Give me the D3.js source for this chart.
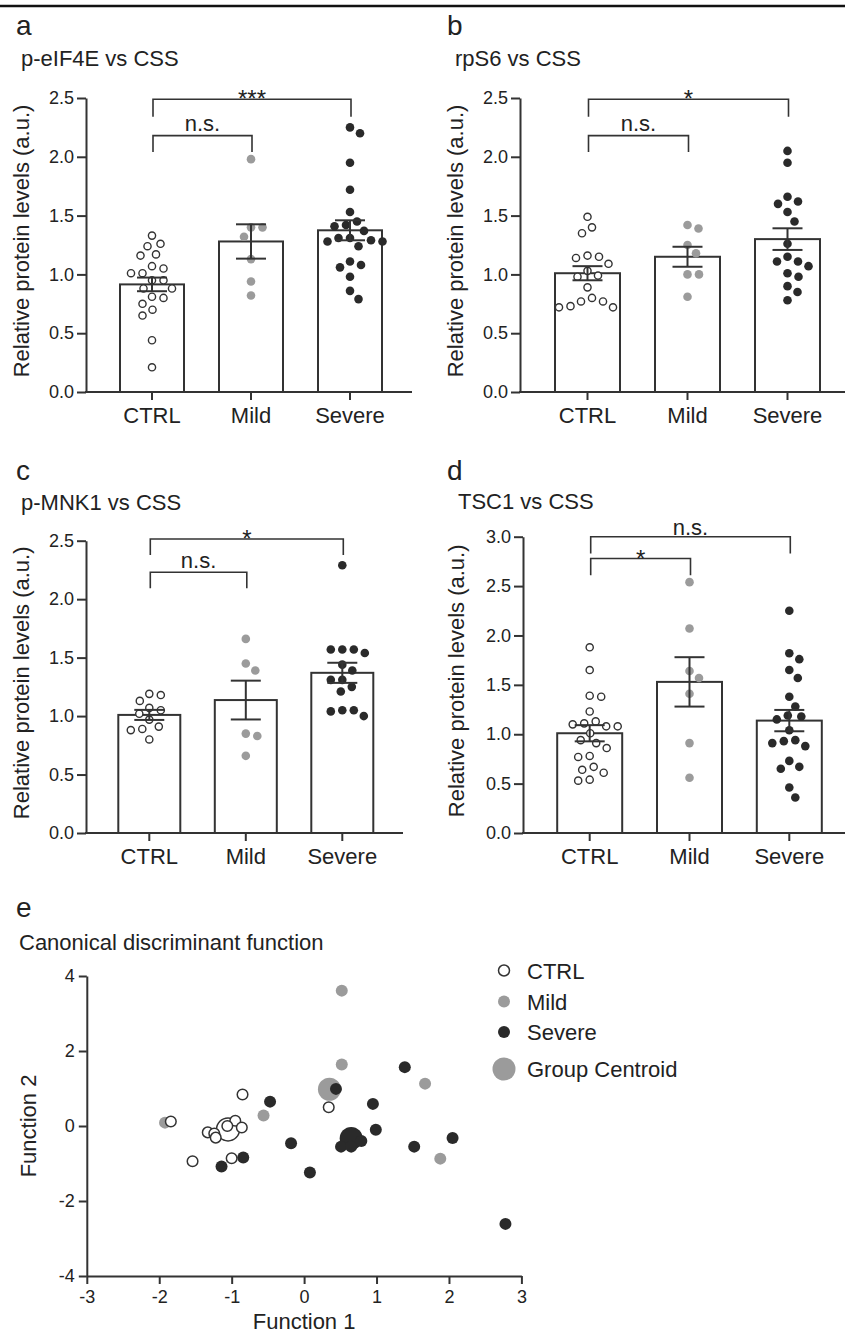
<!DOCTYPE html>
<html>
<head>
<meta charset="utf-8">
<script src="https://cdn.jsdelivr.net/npm/d3@7"></script>
<style>
  body { margin: 0; background: #fff; }
  text { font-family: "Liberation Sans", Arial, sans-serif; fill: #222; }
</style>
</head>
<body>
<svg id="fig" width="845" height="1333"></svg>
<script>
// ---- data ----
var groups = ['CTRL', 'Mild', 'Severe'];

// a: p-eIF4E
var eif4eCtrl = [1.33, 1.26, 1.24, 1.17, 1.16, 1.07, 1.05, 1.01, 1.01, 0.95, 0.95, 0.88, 0.88, 0.81, 0.80, 0.75, 0.70, 0.65, 0.44, 0.21];
var eif4eMild = [1.98, 1.40, 1.40, 1.32, 1.13, 0.94, 0.82];
var eif4eSevere = [2.25, 2.20, 1.95, 1.72, 1.53, 1.45, 1.42, 1.41, 1.37, 1.31, 1.31, 1.29, 1.28, 1.28, 1.24, 1.11, 1.08, 1.06, 0.98, 0.86, 0.79];
var eif4eMean = [0.915, 1.28, 1.375];
var eif4eSem = [0.058, 0.146, 0.085];

// b: rpS6
var rps6Ctrl = [1.49, 1.40, 1.35, 1.16, 1.15, 1.14, 1.09, 1.03, 0.99, 0.98, 0.89, 0.80, 0.77, 0.77, 0.73, 0.72, 0.72];
var rps6Mild = [1.42, 1.39, 1.25, 1.18, 1.00, 1.00, 0.81];
var rps6Severe = [2.05, 1.95, 1.66, 1.62, 1.60, 1.53, 1.45, 1.26, 1.15, 1.11, 1.11, 1.07, 1.01, 0.98, 0.90, 0.85, 0.78];
var rps6Mean = [1.01, 1.15, 1.30];
var rps6Sem = [0.06, 0.085, 0.092];

// c: p-MNK1
var mnk1Ctrl = [1.19, 1.18, 1.13, 1.07, 1.05, 1.02, 0.97, 0.91, 0.89, 0.88, 0.80];
var mnk1Mild = [1.66, 1.45, 1.39, 0.85, 0.83, 0.66];
var mnk1Severe = [2.29, 1.57, 1.57, 1.57, 1.54, 1.44, 1.39, 1.31, 1.31, 1.25, 1.21, 1.05, 1.05, 1.04, 1.00];
var mnk1Mean = [1.01, 1.137, 1.37];
var mnk1Sem = [0.043, 0.166, 0.086];

// d: TSC1
var tsc1Ctrl = [1.88, 1.65, 1.39, 1.38, 1.23, 1.13, 1.11, 1.10, 1.08, 1.08, 1.01, 0.94, 0.91, 0.86, 0.78, 0.77, 0.67, 0.64, 0.61, 0.54, 0.53];
var tsc1Mild = [2.54, 2.07, 1.64, 1.57, 1.41, 0.91, 0.56];
var tsc1Severe = [2.25, 1.82, 1.76, 1.65, 1.57, 1.38, 1.28, 1.19, 1.18, 1.15, 1.04, 0.94, 0.93, 0.91, 0.88, 0.73, 0.67, 0.65, 0.46, 0.36];
var tsc1Mean = [1.01, 1.53, 1.138];
var tsc1Sem = [0.082, 0.25, 0.108];

// e: canonical discriminant function
var ctrlF1 = [-1.84, -0.85, 0.34, -0.95, -1.06, -0.86, -1.33, -1.24, -1.22, -1.54, -1.00];
var ctrlF2 = [0.12, 0.84, 0.50, 0.14, 0.00, -0.04, -0.17, -0.20, -0.31, -0.94, -0.86];
var mildF1 = [-1.92, -0.56, 0.52, 0.52, 1.67, 1.88];
var mildF2 = [0.09, 0.28, 3.61, 1.64, 1.13, -0.87];
var severeF1 = [-0.47, -0.84, -1.14, -0.18, 0.08, 0.44, 0.95, 0.99, 1.39, 1.52, 2.05, 2.78, 0.51, 0.65, 0.79];
var severeF2 = [0.65, -0.84, -1.08, -0.46, -1.24, 0.99, 0.59, -0.10, 1.57, -0.55, -0.32, -2.61, -0.55, -0.55, -0.40];
var centroidF1 = [-1.05, 0.35, 0.65];
var centroidF2 = [-0.09, 0.98, -0.33];

var yTicks25 = [0, 0.5, 1.0, 1.5, 2.0, 2.5];
var yTicks30 = [0, 0.5, 1.0, 1.5, 2.0, 2.5, 3.0];
var f1Ticks = [-3, -2, -1, 0, 1, 2, 3];
var f2Ticks = [-4, -2, 0, 2, 4];

// ---- style ----
var ink = '#333';
var grey = '#9b9b9b';
var dark = '#2a2a2a';

var svg = d3.select('#fig');

// top rule
svg.append('line')
  .attr('x1', 0).attr('x2', 845).attr('y1', 6).attr('y2', 6)
  .attr('stroke', '#111').attr('stroke-width', 2.5);

// beeswarm: spread points sideways so they don't overlap
function swarm(values, cx, y, minDist) {
  var pts = values.map(function(v) { return { v: v, py: y(v) }; })
    .sort(function(a, b) { return a.py - b.py; });
  var placed = [];
  pts.forEach(function(p) {
    var off = null;
    for (var k = 0; k < 400 && off === null; k++) {
      var cands = k === 0 ? [0] : [k * 0.5, -k * 0.5];
      for (var j = 0; j < cands.length; j++) {
        var o = cands[j];
        var ok = placed.every(function(q) {
          var dx = q.px - (cx + o), dy = q.py - p.py;
          return dx * dx + dy * dy >= minDist * minDist;
        });
        if (ok) { off = o; break; }
      }
    }
    p.px = cx + off;
    placed.push(p);
  });
  return placed;
}

function barPanel(p) {
  var g = svg.append('g');
  var x = d3.scalePoint().domain(groups).range(p.xRange);
  var y = d3.scaleLinear().domain([0, p.yMax]).range(p.yRange);

  // panel letter + title
  g.append('text').attr('x', p.letterX).attr('y', p.letterY)
    .attr('font-size', 28).text(p.letter);
  g.append('text').attr('x', p.titleX).attr('y', p.titleY)
    .attr('font-size', 22).text(p.title);

  // bars
  g.selectAll('rect.bar')
    .data(groups)
    .enter()
    .append('rect')
    .attr('x', function(d) { return x(d) - p.barW / 2; })
    .attr('y', function(d, i) { return y(p.mean[i]); })
    .attr('width', p.barW)
    .attr('height', function(d, i) { return y(0) - y(p.mean[i]); })
    .attr('fill', '#fff')
    .attr('stroke', ink)
    .attr('stroke-width', 2);

  // dots
  var sets = [
    { vals: p.ctrl, fill: '#fff', stroke: ink, r: 3.6, sw: 1.4 },
    { vals: p.mild, fill: grey, stroke: 'none', r: 4.3, sw: 0 },
    { vals: p.severe, fill: dark, stroke: 'none', r: 4.3, sw: 0 }
  ];
  sets.forEach(function(s, i) {
    var pts = swarm(s.vals, x(groups[i]), y, 11.5);
    g.selectAll(null)
      .data(pts)
      .enter()
      .append('circle')
      .attr('cx', function(d) { return d.px; })
      .attr('cy', function(d) { return d.py; })
      .attr('r', s.r)
      .attr('fill', s.fill)
      .attr('stroke', s.stroke)
      .attr('stroke-width', s.sw);
  });

  // error bars (mean ± SEM)
  var eb = g.selectAll('g.err')
    .data(groups)
    .enter()
    .append('g')
    .attr('stroke', ink)
    .attr('stroke-width', 2);
  eb.append('line')
    .attr('x1', function(d) { return x(d); })
    .attr('x2', function(d) { return x(d); })
    .attr('y1', function(d, i) { return y(p.mean[i] + p.sem[i]); })
    .attr('y2', function(d, i) { return y(p.mean[i] - p.sem[i]); });
  [1, -1].forEach(function(sgn) {
    eb.append('line')
      .attr('x1', function(d) { return x(d) - 15; })
      .attr('x2', function(d) { return x(d) + 15; })
      .attr('y1', function(d, i) { return y(p.mean[i] + sgn * p.sem[i]); })
      .attr('y2', function(d, i) { return y(p.mean[i] + sgn * p.sem[i]); });
  });

  // y axis
  var ya = g.append('g')
    .attr('transform', 'translate(' + p.axisX + ',0)')
    .call(d3.axisLeft(y).tickValues(p.ticks).tickSize(9).tickSizeOuter(0).tickPadding(3)
      .tickFormat(d3.format('.1f')));
  ya.selectAll('path, line').attr('stroke', ink).attr('stroke-width', 2);
  ya.selectAll('text').attr('font-size', 18).attr('font-family', '"Liberation Sans", Arial, sans-serif').attr('fill', '#222');

  // x axis
  g.append('line')
    .attr('x1', p.axisX - 1).attr('x2', p.xEnd)
    .attr('y1', y(0)).attr('y2', y(0))
    .attr('stroke', ink).attr('stroke-width', 2);
  g.selectAll('line.xt')
    .data(groups)
    .enter()
    .append('line')
    .attr('x1', function(d) { return x(d); })
    .attr('x2', function(d) { return x(d); })
    .attr('y1', y(0)).attr('y2', y(0) + 8)
    .attr('stroke', ink).attr('stroke-width', 2);
  g.selectAll('text.xl')
    .data(groups)
    .enter()
    .append('text')
    .attr('x', function(d) { return x(d); })
    .attr('y', y(0) + 31)
    .attr('text-anchor', 'middle')
    .attr('font-size', 22)
    .text(function(d) { return d; });

  // y label
  g.append('text')
    .attr('transform', 'translate(' + p.labelX + ',' + ((y(0) + y(p.yMax)) / 2 - 4) + ') rotate(-90)')
    .attr('text-anchor', 'middle')
    .attr('font-size', 22)
    .text('Relative protein levels (a.u.)');

  // significance brackets
  p.brackets.forEach(function(b) {
    var x1 = x(groups[b.from]) + 1, x2 = x(groups[b.to]) + 1;
    g.append('path')
      .attr('d', 'M' + x1 + ',' + y(b.tip) + 'V' + y(b.level) + 'H' + x2 + 'V' + y(b.tip))
      .attr('fill', 'none').attr('stroke', ink).attr('stroke-width', 1.6);
    g.append('text')
      .attr('x', (x1 + x2) / 2)
      .attr('y', y(b.level) + b.dy)
      .attr('text-anchor', 'middle')
      .attr('font-size', b.label === 'n.s.' ? 22 : 24)
      .text(b.label);
  });
}

barPanel({
  letter: 'a', letterX: 16, letterY: 35, title: 'p-eIF4E vs CSS', titleX: 21, titleY: 66,
  xRange: [152, 350], barW: 64, axisX: 86, xEnd: 412, yRange: [392, 98], yMax: 2.5, ticks: yTicks25,
  labelX: 29,
  ctrl: eif4eCtrl, mild: eif4eMild, severe: eif4eSevere, mean: eif4eMean, sem: eif4eSem,
  brackets: [
    { from: 0, to: 2, level: 2.49, tip: 2.34, label: '***', dy: 8 },
    { from: 0, to: 1, level: 2.18, tip: 2.04, label: 'n.s.', dy: -5 }
  ]
});

barPanel({
  letter: 'b', letterX: 447, letterY: 35, title: 'rpS6 vs CSS', titleX: 455, titleY: 66,
  xRange: [587.5, 787.5], barW: 65, axisX: 520, xEnd: 845, yRange: [392, 98], yMax: 2.5, ticks: yTicks25,
  labelX: 463,
  ctrl: rps6Ctrl, mild: rps6Mild, severe: rps6Severe, mean: rps6Mean, sem: rps6Sem,
  brackets: [
    { from: 0, to: 2, level: 2.49, tip: 2.34, label: '*', dy: 8 },
    { from: 0, to: 1, level: 2.18, tip: 2.04, label: 'n.s.', dy: -5 }
  ]
});

barPanel({
  letter: 'c', letterX: 16, letterY: 480, title: 'p-MNK1 vs CSS', titleX: 21, titleY: 510,
  xRange: [149.3, 342.3], barW: 62, axisX: 86, xEnd: 403, yRange: [833, 540.7], yMax: 2.5, ticks: yTicks25,
  labelX: 29,
  ctrl: mnk1Ctrl, mild: mnk1Mild, severe: mnk1Severe, mean: mnk1Mean, sem: mnk1Sem,
  brackets: [
    { from: 0, to: 2, level: 2.515, tip: 2.378, label: '*', dy: 8 },
    { from: 0, to: 1, level: 2.23, tip: 2.093, label: 'n.s.', dy: -4 }
  ]
});

barPanel({
  letter: 'd', letterX: 447, letterY: 480, title: 'TSC1 vs CSS', titleX: 458, titleY: 509,
  xRange: [589.7, 789.3], barW: 65, axisX: 523, xEnd: 845, yRange: [833, 536.7], yMax: 3.0, ticks: yTicks30,
  labelX: 464,
  ctrl: tsc1Ctrl, mild: tsc1Mild, severe: tsc1Severe, mean: tsc1Mean, sem: tsc1Sem,
  brackets: [
    { from: 0, to: 2, level: 3.0, tip: 2.83, label: 'n.s.', dy: -2 },
    { from: 0, to: 1, level: 2.78, tip: 2.61, label: '*', dy: 9 }
  ]
});

// ---- e: scatter ----
var ge = svg.append('g');
var fx = d3.scaleLinear().domain([-3, 3]).range([86.8, 521.4]);
var fy = d3.scaleLinear().domain([-4, 4]).range([1276, 976]);

ge.append('text').attr('x', 16).attr('y', 917).attr('font-size', 28).text('e');
ge.append('text').attr('x', 19).attr('y', 950).attr('font-size', 22).text('Canonical discriminant function');

// centroids underneath
var centroidStyle = [
  { fill: '#fff', stroke: ink },
  { fill: grey, stroke: 'none' },
  { fill: dark, stroke: 'none' }
];
ge.selectAll('circle.cen')
  .data(centroidF1)
  .enter()
  .append('circle')
  .attr('cx', function(d) { return fx(d); })
  .attr('cy', function(d, i) { return fy(centroidF2[i]); })
  .attr('r', 11.5)
  .attr('fill', function(d, i) { return centroidStyle[i].fill; })
  .attr('stroke', function(d, i) { return centroidStyle[i].stroke; })
  .attr('stroke-width', 1.5);

function scatterSet(xs, ys, fill, stroke) {
  ge.selectAll(null)
    .data(xs)
    .enter()
    .append('circle')
    .attr('cx', function(d) { return fx(d); })
    .attr('cy', function(d, i) { return fy(ys[i]); })
    .attr('r', stroke === 'none' ? 6 : 5.3)
    .attr('fill', fill)
    .attr('stroke', stroke)
    .attr('stroke-width', 1.5);
}
scatterSet(mildF1, mildF2, grey, 'none');
scatterSet(ctrlF1, ctrlF2, '#fff', ink);
scatterSet(severeF1, severeF2, dark, 'none');

var xa = ge.append('g')
  .attr('transform', 'translate(0,' + fy(-4) + ')')
  .call(d3.axisBottom(fx).tickValues(f1Ticks).tickSize(8).tickSizeOuter(0).tickPadding(6)
    .tickFormat(function(d) { return String(d); }));
var ya = ge.append('g')
  .attr('transform', 'translate(' + fx(-3) + ',0)')
  .call(d3.axisLeft(fy).tickValues(f2Ticks).tickSize(8).tickSizeOuter(0).tickPadding(4)
    .tickFormat(function(d) { return String(d); }));
[xa, ya].forEach(function(a) {
  a.selectAll('path, line').attr('stroke', ink).attr('stroke-width', 2);
  a.selectAll('text').attr('font-size', 18).attr('font-family', '"Liberation Sans", Arial, sans-serif').attr('fill', '#222');
});

ge.append('text').attr('x', fx(0)).attr('y', 1329).attr('text-anchor', 'middle')
  .attr('font-size', 22).text('Function 1');
ge.append('text')
  .attr('transform', 'translate(36,' + fy(0) + ') rotate(-90)')
  .attr('text-anchor', 'middle').attr('font-size', 22).text('Function 2');

// legend
var legendItems = ['CTRL', 'Mild', 'Severe', 'Group Centroid'];
var legendStyle = [
  { fill: '#fff', stroke: ink, r: 5.5 },
  { fill: grey, stroke: 'none', r: 6 },
  { fill: dark, stroke: 'none', r: 6 },
  { fill: grey, stroke: 'none', r: 11.5 }
];
var legendY = [970.5, 1001.5, 1032, 1069];
var lg = ge.selectAll('g.leg')
  .data(legendItems)
  .enter()
  .append('g')
  .attr('transform', function(d, i) { return 'translate(504,' + legendY[i] + ')'; });
lg.append('circle')
  .attr('r', function(d, i) { return legendStyle[i].r; })
  .attr('fill', function(d, i) { return legendStyle[i].fill; })
  .attr('stroke', function(d, i) { return legendStyle[i].stroke; })
  .attr('stroke-width', 1.5);
lg.append('text')
  .attr('x', 23)
  .attr('y', 8)
  .attr('font-size', 22)
  .text(function(d) { return d; });
</script>
</body>
</html>
